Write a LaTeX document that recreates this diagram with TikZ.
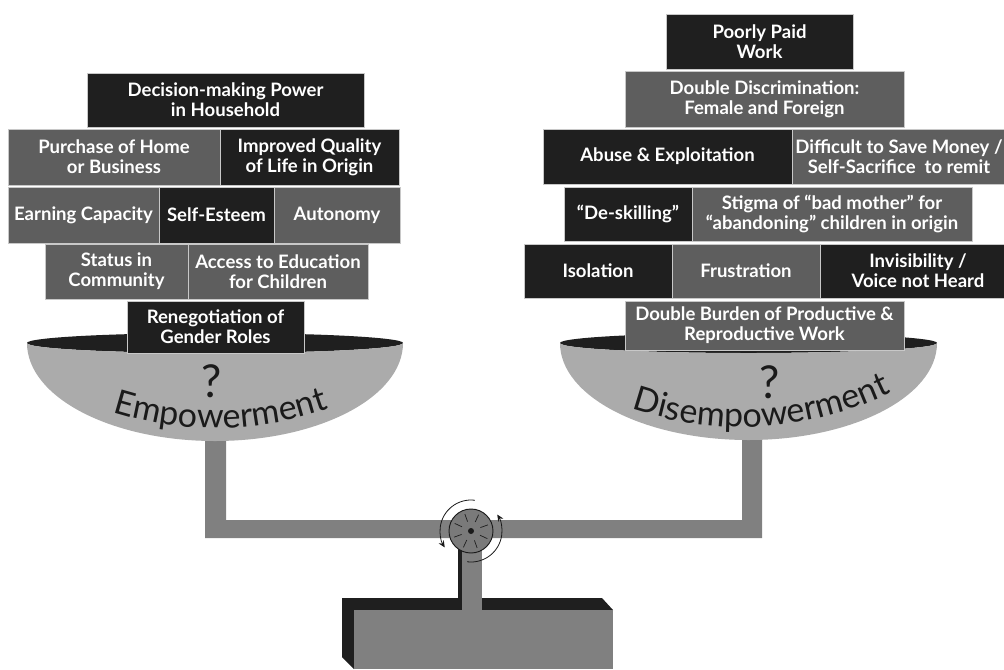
\documentclass[tikz,border=0pt]{standalone}
\usepackage{fontspec}
\setmainfont{Lato}
\usetikzlibrary{decorations.text,arrows.meta}
\definecolor{blk}{HTML}{1F1F1F}
\definecolor{gry}{HTML}{5E5E5E}
\definecolor{bowlc}{HTML}{ABABAB}
\definecolor{beamc}{HTML}{808080}
\definecolor{edgec}{HTML}{C8C8C8}
\definecolor{inkc}{HTML}{1A1A1A}
\newcommand\curvefont{\fontsize{25.5}{28}\selectfont}
% name, x1, y1, x2, y2, style, text  (pixel coordinates, y downward)
\newcommand\mybox[7]{%
  \pgfmathsetmacro\bw{(#4-#2)*0.75}%
  \pgfmathsetmacro\bh{(#5-#3)*0.75}%
  \node[#6, minimum width=\bw pt, minimum height=\bh pt] (#1) at ({(#2+#4)/2},{-(#3+#5)/2}) {#7};}
\begin{document}
\begin{tikzpicture}[x=0.75pt,y=0.75pt,
  box/.style={draw=edgec, line width=0.6pt, inner sep=0pt, text=white, align=center,
    font=\bfseries\fontsize{13.9}{15}\selectfont},
  blackbox/.style={box, fill=blk},
  graybox/.style={box, fill=gry},
  qmark/.style={text=inkc, inner sep=0pt, font=\fontsize{34}{36}\selectfont},
  rot/.style={line width=0.6pt, draw=inkc, -{Stealth[length=5pt,width=4.5pt]}}]
\useasboundingbox (0,0) rectangle (1004,-669);
\clip (0,0) rectangle (1004,-669);

% beam (U shape)
\fill[beamc] (205,-430) -- (226,-430) -- (226,-520) -- (742,-520) -- (742,-430)
  -- (762,-430) -- (762,-538) -- (205,-538) -- cycle;

% stand
\fill[blk] (342,-598) -- (602,-598) -- (613,-610) -- (354,-610) -- (354,-669) -- (342,-657) -- cycle;
\fill[beamc] (354,-610) rectangle (613,-669);
\fill[blk] (458,-545) rectangle (462,-600);
\fill[beamc] (462,-531) rectangle (482,-612);

% pivot
\node[circle, minimum size=33pt, inner sep=0pt, fill=beamc!95!black, draw=inkc, line width=0.7pt] (pv) at (471,-531) {};
\foreach \a in {20,65,110,155,200,245,290,335}
  \draw[inkc, line width=0.5pt] ([shift={(\a:10)}]pv.center) -- ([shift={(\a:18)}]pv.center);
\fill[inkc] (pv.center) circle[radius=3];
\draw[rot] (pv.center) ++(83:31) arc[start angle=83, end angle=212, radius=31];
\draw[rot] (pv.center) ++(263:31) arc[start angle=263, end angle=392, radius=31];

% left bowl
\fill[blk] (215,-343) ellipse[x radius=188, y radius=10];
\fill[bowlc] (27,-343) arc[start angle=180, end angle=360, x radius=188, y radius=98]
  arc[start angle=0, end angle=-180, x radius=188, y radius=10];
% right bowl
\fill[blk] (748.5,-343) ellipse[x radius=188.5, y radius=10];
\fill[bowlc] (560,-343) arc[start angle=180, end angle=360, x radius=188.5, y radius=97]
  arc[start angle=0, end angle=-180, x radius=188.5, y radius=10];

% question marks and curved labels
\node[qmark] (q1) at (212,-381) {?};
\node[qmark] (q2) at (770,-382) {?};
\path[decorate, decoration={text along path, text color=inkc,
    text={|\curvefont|Empowerment}, text align=center}]
  (215,-88) ++(250:340) arc[start angle=250, end angle=292, radius=340];
\path[decorate, decoration={text along path, text color=inkc,
    text={|\curvefont|Disempowerment}, text align=center}]
  (742,-87) ++(249:340) arc[start angle=249, end angle=298, radius=340];

% left stack
\mybox{l1}{87}{73}{364}{127}{blackbox}{Decision-making Power\\in Household}
\mybox{l2}{8}{129}{220}{185}{graybox}{Purchase of Home\\or Business}
\mybox{l3}{220}{129}{399}{185}{blackbox}{Improved Quality\\of Life in Origin}
\mybox{l4}{8}{187}{159}{243}{graybox}{Earning Capacity}
\mybox{l5}{159}{187}{274}{243}{blackbox}{Self-Esteem}
\mybox{l6}{274}{187}{400}{243}{graybox}{Autonomy}
\mybox{l7}{45}{244}{188}{299}{graybox}{Status in\\Community}
\mybox{l8}{188}{244}{368}{299}{graybox}{Access to Education\\for Children}
\mybox{l9}{127}{301}{304}{353}{blackbox}{Renegotiation of\\Gender Roles}

% right stack
\mybox{r1}{666}{14}{853}{69}{blackbox}{Poorly Paid\\Work}
\mybox{r2}{625}{71}{904}{127}{graybox}{Double Discrimination:\\Female and Foreign}
\mybox{r3}{543}{129}{792}{184}{blackbox}{Abuse \& Exploitation}
\mybox{r4}{792}{129}{1006}{184}{graybox}{Difficult to Save Money /\\Self-Sacrifice\ \ to remit}
\mybox{r5}{564}{187}{692}{241}{blackbox}{“De-skilling”}
\mybox{r6}{692}{187}{972}{241}{graybox}{Stigma of “bad mother” for\\“abandoning” children in origin}
\mybox{r7}{524}{244}{672}{298}{blackbox}{Isolation}
\mybox{r8}{672}{244}{820}{298}{graybox}{Frustration}
\mybox{r9}{820}{244}{1016}{298}{blackbox}{Invisibility /\\Voice not Heard}
\mybox{r10}{625}{301}{904}{350}{graybox}{Double Burden of Productive \&\\Reproductive Work}
\end{tikzpicture}
\end{document}
